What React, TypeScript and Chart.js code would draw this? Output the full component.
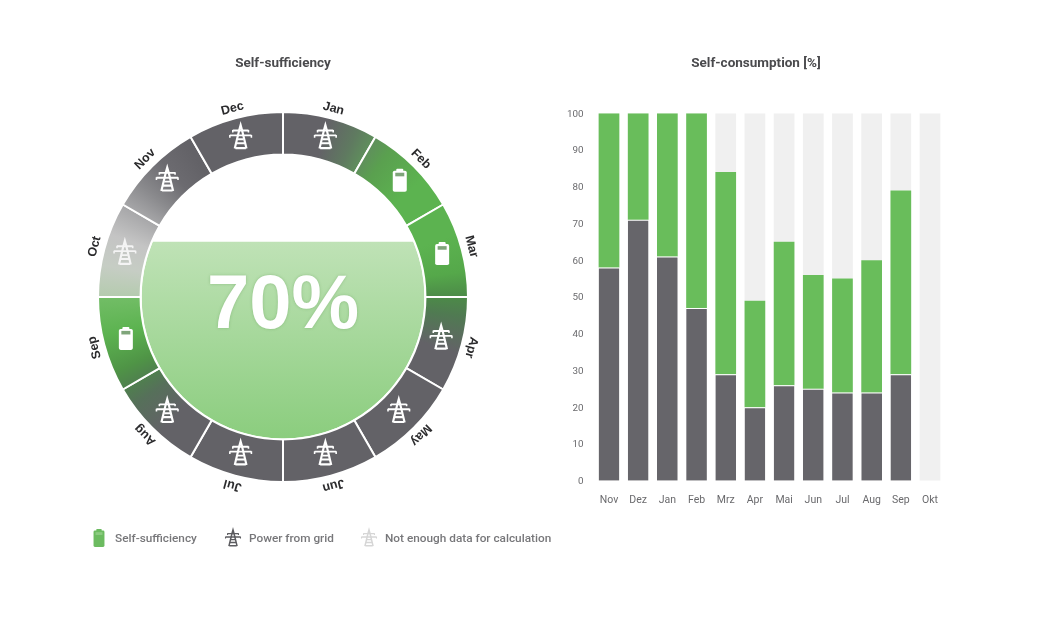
import React, { useEffect, useRef } from "react";
import { Chart, registerables } from "chart.js";

Chart.register(...registerables);

// ---- ring data
const ringMonths = ["Jan", "Feb", "Mar", "Apr", "May", "Jun", "Jul", "Aug", "Sep", "Oct", "Nov", "Dec"];
const ringShares = [1, 1, 1, 1, 1, 1, 1, 1, 1, 1, 1, 1];
const ringStates = ["grid", "battery", "battery", "grid", "grid", "grid", "grid", "grid", "battery", "nodata", "grid", "grid"];
const selfSufficiencyPercent = 70;
const fillLevelPercent = 69.5;

// ---- bar data
const barMonths = ["Nov", "Dez", "Jan", "Feb", "Mrz", "Apr", "Mai", "Jun", "Jul", "Aug", "Sep", "Okt"];
const gridShare = [58, 71, 61, 47, 29, 20, 26, 25, 24, 24, 29, 0];
const selfShare = [42, 29, 39, 53, 55, 29, 39, 31, 31, 36, 50, 0];
const restShare = [0, 0, 0, 0, 16, 51, 35, 44, 45, 40, 21, 100];

// ---- legend
const legendLabels = ["Self-sufficiency", "Power from grid", "Not enough data for calculation"];

// ---- styles
const GRAY = "#636267";
const GREEN = "#5cb350";
const BAR_GRAY = "#66656a";
const BAR_GREEN = "#69bd5b";
const BAR_REST = "#f0f0f0";
const TEXT = "#4a4a4d";
const ringStops: [number, string][] = [
  [0, GRAY], [14, GRAY], [24, "#5f7a60"], [30, "#5f8f5c"], [36, "#5aa04f"], [50, GREEN],
  [70, GREEN], [82, "#55a84a"], [90, "#4c8a48"], [96, "#507a52"], [108, GRAY],
  [222, GRAY], [234, "#56705a"], [240, "#4f804e"], [246, "#4f9446"], [258, GREEN], [270, "#72bd66"],
  [270.01, "#b4cbae"], [280, "#c6cdc4"], [290, "#c4c4c4"], [300, "#a6a6a8"],
  [308, "#8a8a8d"], [318, "#6c6b70"], [328, GRAY], [360, GRAY],
];

function drawTower(ctx: CanvasRenderingContext2D, cx: number, cy: number, s: number, color: string) {
  ctx.save();
  ctx.translate(cx, cy);
  ctx.scale(s, s);
  ctx.strokeStyle = color;
  ctx.fillStyle = color;
  ctx.lineCap = "butt";
  ctx.lineWidth = 2.2;
  ctx.beginPath();
  // legs and lattice
  ctx.moveTo(-6, 12); ctx.lineTo(-1.4, -7); ctx.lineTo(0, -12); ctx.lineTo(1.4, -7); ctx.lineTo(6, 12);
  ctx.moveTo(-4.4, 6.5); ctx.lineTo(4.4, 6.5);
  ctx.moveTo(-5.3, 11.5); ctx.lineTo(5.3, 11.5);
  ctx.stroke();
  ctx.lineWidth = 1.9;
  ctx.beginPath();
  // cross arms
  ctx.moveTo(-8, -6.5); ctx.lineTo(8, -6.5);
  ctx.moveTo(-11, -1.5); ctx.lineTo(11, -1.5);
  ctx.moveTo(-3, 2.5); ctx.lineTo(3, 2.5);
  ctx.stroke();
  ctx.lineWidth = 1.6;
  ctx.beginPath();
  ctx.moveTo(-8, -7); ctx.lineTo(-8, -4.5);
  ctx.moveTo(8, -7); ctx.lineTo(8, -4.5);
  ctx.moveTo(-11, -2); ctx.lineTo(-11, 0.8);
  ctx.moveTo(11, -2); ctx.lineTo(11, 0.8);
  ctx.stroke();
  ctx.restore();
}

function drawBattery(ctx: CanvasRenderingContext2D, cx: number, cy: number, s: number, color: string, win: string) {
  ctx.save();
  ctx.translate(cx, cy);
  ctx.scale(s, s);
  ctx.fillStyle = color;
  ctx.beginPath();
  ctx.roundRect(-3.5, -11.5, 7, 3, 1);
  ctx.fill();
  ctx.beginPath();
  ctx.roundRect(-7, -9.5, 14, 21, 1.8);
  ctx.fill();
  ctx.fillStyle = win;
  ctx.fillRect(-4.5, -7.5, 9, 3.6);
  ctx.restore();
}

const ringPlugin = {
  id: "ringDecor",
  beforeDatasetsDraw(chart: any) {
    const arc = chart.getDatasetMeta(0).data[0];
    const { x, y, innerRadius } = arc;
    const ctx: CanvasRenderingContext2D = chart.ctx;
    const r = innerRadius - 1;
    const level = y + r - (2 * r * fillLevelPercent) / 100;
    ctx.save();
    ctx.beginPath();
    ctx.rect(x - r, level, 2 * r, y + r - level + 1);
    ctx.clip();
    const g = ctx.createLinearGradient(0, level, 0, y + r);
    g.addColorStop(0, "#bfe2b6");
    g.addColorStop(1, "#8bcd7e");
    ctx.fillStyle = g;
    ctx.beginPath();
    ctx.arc(x, y, r, 0, Math.PI * 2);
    ctx.fill();
    ctx.restore();
  },
  afterDatasetsDraw(chart: any) {
    const arcs = chart.getDatasetMeta(0).data;
    const ctx: CanvasRenderingContext2D = chart.ctx;
    const { x, y, innerRadius, outerRadius } = arcs[0];
    // centre value
    ctx.save();
    ctx.font = "700 76px 'Liberation Sans'";
    ctx.textAlign = "center";
    ctx.textBaseline = "alphabetic";
    ctx.fillStyle = "#ffffff";
    ctx.shadowColor = "rgba(95,150,85,0.45)";
    ctx.shadowBlur = 3;
    ctx.fillText(`${selfSufficiencyPercent}%`, x, y + 31);
    ctx.restore();
    // icons and month labels
    arcs.forEach((arc: any, i: number) => {
      const mid = (arc.startAngle + arc.endAngle) / 2;
      const mr = (innerRadius + outerRadius) / 2;
      const ix = x + Math.cos(mid) * mr;
      const iy = y + Math.sin(mid) * mr;
      const state = ringStates[i];
      if (state === "battery") drawBattery(ctx, ix + 1, iy - 1, 1, "#ffffff", "#7fa57a");
      else drawTower(ctx, ix, iy - 2, 0.98, state === "nodata" ? "#f4f4f4" : "#ffffff");
      const lr = outerRadius + 10;
      ctx.save();
      ctx.translate(x + Math.cos(mid) * lr, y + Math.sin(mid) * lr);
      ctx.rotate(mid + Math.PI / 2);
      ctx.font = "700 12.5px 'Liberation Sans'";
      ctx.fillStyle = "#2b2b2d";
      ctx.textAlign = "center";
      ctx.textBaseline = "middle";
      ctx.fillText(ringMonths[i], 0, 0);
      ctx.restore();
    });
  },
};

const titleOptions = (text: string) => ({
  display: true,
  text,
  color: TEXT,
  font: { family: "Roboto", size: 13.5, weight: "bold" as const, lineHeight: 1.2 },
  padding: { top: 55.5, bottom: 41.5 },
});

function LegendIcon({ kind }: { kind: string }) {
  const ref = useRef<HTMLCanvasElement>(null);
  useEffect(() => {
    const ctx = ref.current!.getContext("2d")!;
    ctx.clearRect(0, 0, 24, 24);
    if (kind === "battery") drawBattery(ctx, 12, 12, 0.78, "#6cbb60", "#8ccb80");
    else drawTower(ctx, 12, 12, 0.68, kind === "grid" ? "#5c5c60" : "#d6d6d6");
  }, [kind]);
  return <canvas ref={ref} width={24} height={24} style={{ display: "block" }} />;
}

const legendItems = [
  { kind: "battery", iconX: 87, textX: 115 },
  { kind: "grid", iconX: 221, textX: 249 },
  { kind: "nodata", iconX: 357, textX: 385 },
];

export default function App() {
  const ringRef = useRef<HTMLCanvasElement>(null);
  const barRef = useRef<HTMLCanvasElement>(null);

  useEffect(() => {
    const ring = new Chart(ringRef.current!, {
      type: "doughnut",
      data: {
        labels: ringMonths,
        datasets: [
          {
            data: ringShares,
            clip: false,
            borderColor: "#ffffff",
            borderWidth: 2,
            backgroundColor: (c: any) => {
              const area = c.chart.chartArea;
              if (!area) return GRAY;
              const cx = (area.left + area.right) / 2;
              const cy = (area.top + area.bottom) / 2;
              const g = c.chart.ctx.createConicGradient(-Math.PI / 2, cx, cy);
              ringStops.forEach(([deg, col]) => g.addColorStop(deg / 360, col));
              return g;
            },
          } as any,
        ],
      },
      options: {
        responsive: false,
        animation: false,
        radius: 185,
        cutout: "77%",
        rotation: 0,
        layout: { padding: { top: 0, left: 0, right: 0, bottom: 159.2 } },
        plugins: {
          legend: { display: false },
          tooltip: { enabled: false },
          title: titleOptions("Self-sufficiency"),
        },
      } as any,
      plugins: [ringPlugin],
    });

    const barDataset = (label: string, data: number[], color: string, top: boolean) => ({
      label,
      data,
      backgroundColor: color,
      borderColor: "#ffffff",
      borderWidth: top ? { top: 1 } : 0,
      borderSkipped: false,
      barPercentage: 0.71,
      categoryPercentage: 1,
    });

    const bar = new Chart(barRef.current!, {
      type: "bar",
      data: {
        labels: barMonths,
        datasets: [
          barDataset("Grid", gridShare, BAR_GRAY, true),
          barDataset("Self-consumption", selfShare, BAR_GREEN, false),
          barDataset("Rest", restShare, BAR_REST, false),
        ],
      },
      options: {
        responsive: false,
        animation: false,
        layout: { padding: { left: 11.4, right: 11.4, top: 0, bottom: 129.3 } },
        plugins: {
          legend: { display: false },
          tooltip: { enabled: false },
          title: titleOptions("Self-consumption [%]"),
        },
        scales: {
          x: {
            stacked: true,
            grid: { display: false },
            border: { display: false },
            ticks: { color: "#6a6a6d", font: { family: "Roboto", size: 10.5 }, padding: 5, maxRotation: 0, autoSkip: false },
            afterFit: (s: any) => { s.height = 30; },
          },
          y: {
            stacked: true,
            min: 0,
            max: 100,
            grid: { display: false },
            border: { display: false },
            ticks: { stepSize: 10, color: "#6a6a6d", font: { family: "Roboto", size: 9.8 }, padding: 3, labelOffset: 1 },
            afterFit: (s: any) => { s.width = 27; },
          },
        },
      } as any,
    });

    return () => {
      ring.destroy();
      bar.destroy();
    };
  }, []);

  return (
    <div style={{ position: "absolute", left: 0, top: 0, width: 1040, height: 640, background: "#fff", overflow: "hidden", filter: "blur(0.4px)" }}>
      <canvas ref={ringRef} width={566} height={640} style={{ position: "absolute", left: 0, top: 0, width: 566, height: 640 }} />
      <canvas ref={barRef} width={400} height={640} style={{ position: "absolute", left: 556, top: 0, width: 400, height: 640 }} />
      {legendItems.map((it, i) => (
        <React.Fragment key={it.kind}>
          <div style={{ position: "absolute", left: it.iconX, top: 526 }}>
            <LegendIcon kind={it.kind} />
          </div>
          <div
            style={{
              position: "absolute",
              left: it.textX,
              top: 531,
              font: "500 11.8px/15px Roboto",
              color: "#77777a",
              whiteSpace: "nowrap",
            }}
          >
            {legendLabels[i]}
          </div>
        </React.Fragment>
      ))}
    </div>
  );
}
